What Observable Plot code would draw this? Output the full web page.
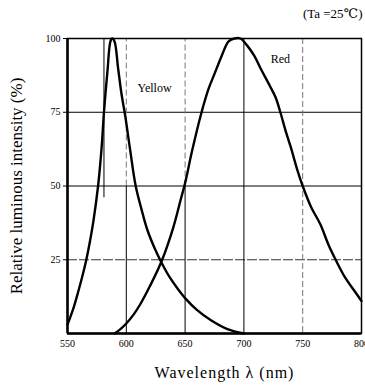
<!DOCTYPE html>
<html>
<head>
<meta charset="utf-8">
<script src="https://cdn.jsdelivr.net/npm/d3@7"></script>
<script src="https://cdn.jsdelivr.net/npm/@observablehq/plot@0.6"></script>
<style>
  html, body { margin: 0; padding: 0; background: #fff; }
  #chart svg { font-family: "Liberation Serif", "DejaVu Serif", serif; display: block; }
</style>
</head>
<body>
<div id="chart"></div>
<script>
// ---- data ----
const wavelengthTicks = [550, 600, 650, 700, 750, 800];
const intensityTicks = [25, 50, 75, 100];

const yellowWavelength = [550, 555, 559, 563, 566, 569, 572, 576, 579, 581, 584, 586.5, 588, 590, 593, 596, 599, 603, 608, 613, 618, 624, 630, 637, 644, 650, 660, 672, 686, 700];
const yellowIntensity  = [3, 8.5, 14, 20, 25, 31, 38, 50, 63, 75, 89, 99, 100, 99, 90, 81, 74, 63, 50, 42, 35, 29, 24, 19, 15, 12, 8, 4.5, 1.5, 0];

const redWavelength = [590, 595, 600, 606, 612, 620, 630, 640, 646, 650, 656, 664, 670, 675, 681, 687, 692, 697, 703, 709, 714, 722, 727, 731, 736, 740, 745, 750, 757, 765, 772, 778, 786, 793, 800];
const redIntensity  = [0, 1.5, 3.4, 6.3, 10, 16, 24.5, 36, 45, 51, 62, 75, 83, 88, 94, 99, 100, 100, 97.5, 94, 90, 84, 80, 75, 68, 63, 56, 50, 43, 37, 30, 25, 19, 15, 11];

const seriesNames = ["Yellow", "Red"];
const labelWavelength = [624, 731];
const labelIntensity = [83, 93];

const xTitle = "Wavelength λ (nm)";
const yTitle = "Relative luminous intensity (%)";
const condition = "(Ta =25℃)";

// ---- build tables ----
const yellow = yellowWavelength.map((w, i) => ({w, v: yellowIntensity[i]}));
const red = redWavelength.map((w, i) => ({w, v: redIntensity[i]}));
const labels = seriesNames.map((name, i) => ({name, w: labelWavelength[i], v: labelIntensity[i]}));

const chart = Plot.plot({
  width: 365,
  height: 391,
  marginLeft: 67,
  marginRight: 4,
  marginTop: 38,
  marginBottom: 58,
  x: {domain: [550, 800]},
  y: {domain: [0, 100]},
  marks: [
    // grid
    Plot.ruleY([25], {stroke: "#333", strokeWidth: 1, strokeDasharray: "10,2"}),
    Plot.ruleY([50, 75], {stroke: "#000", strokeWidth: 1}),
    Plot.ruleX([600, 650], {y1: 0, y2: 50, stroke: "#000", strokeWidth: 1}),
    Plot.ruleX([600, 650], {y1: 50, y2: 100, stroke: "#777", strokeWidth: 1, strokeDasharray: "6,3"}),
    Plot.ruleX([700], {stroke: "#000", strokeWidth: 1}),
    Plot.ruleX([750], {stroke: "#777", strokeWidth: 1, strokeDasharray: "6,3"}),
    // thin marker line near the yellow peak
    Plot.ruleX([581], {y1: 46, y2: 100, stroke: "#000", strokeWidth: 1}),
    // frame
    Plot.frame({stroke: "#000", strokeWidth: 1.5}),
    Plot.ruleX([550], {stroke: "#000", strokeWidth: 2.5}),
    Plot.ruleY([0], {stroke: "#000", strokeWidth: 2.5}),
    // curves
    Plot.line(yellow, {x: "w", y: "v", stroke: "#000", strokeWidth: 2.4, curve: "catmull-rom"}),
    Plot.line(red, {x: "w", y: "v", stroke: "#000", strokeWidth: 2.4, curve: "catmull-rom"}),
    // series labels
    Plot.text(labels, {x: "w", y: "v", text: "name", fontSize: 12, fill: "#000"}),
    // axes
    Plot.axisX({ticks: wavelengthTicks, tickSize: 0, tickPadding: 6, fontSize: 10, label: null}),
    Plot.axisY({ticks: intensityTicks, tickSize: 4, tickPadding: 3, fontSize: 10, label: null}),
    // titles
    Plot.text([yTitle], {frameAnchor: "left", textAnchor: "middle", rotate: -90, dx: -51, fontSize: 17, fill: "#000"}),
    Plot.text([xTitle], {frameAnchor: "bottom", textAnchor: "middle", dy: 44, dx: 10, fontSize: 16, fill: "#000"}),
    Plot.text([condition], {frameAnchor: "top-right", textAnchor: "end", dy: -30, dx: 1, fontSize: 13, fill: "#000"})
  ]
});
d3.select(chart).selectAll("text")
  .filter(function () { return this.textContent === xTitle; })
  .attr("letter-spacing", 1);
document.getElementById("chart").appendChild(chart);
</script>
</body>
</html>
